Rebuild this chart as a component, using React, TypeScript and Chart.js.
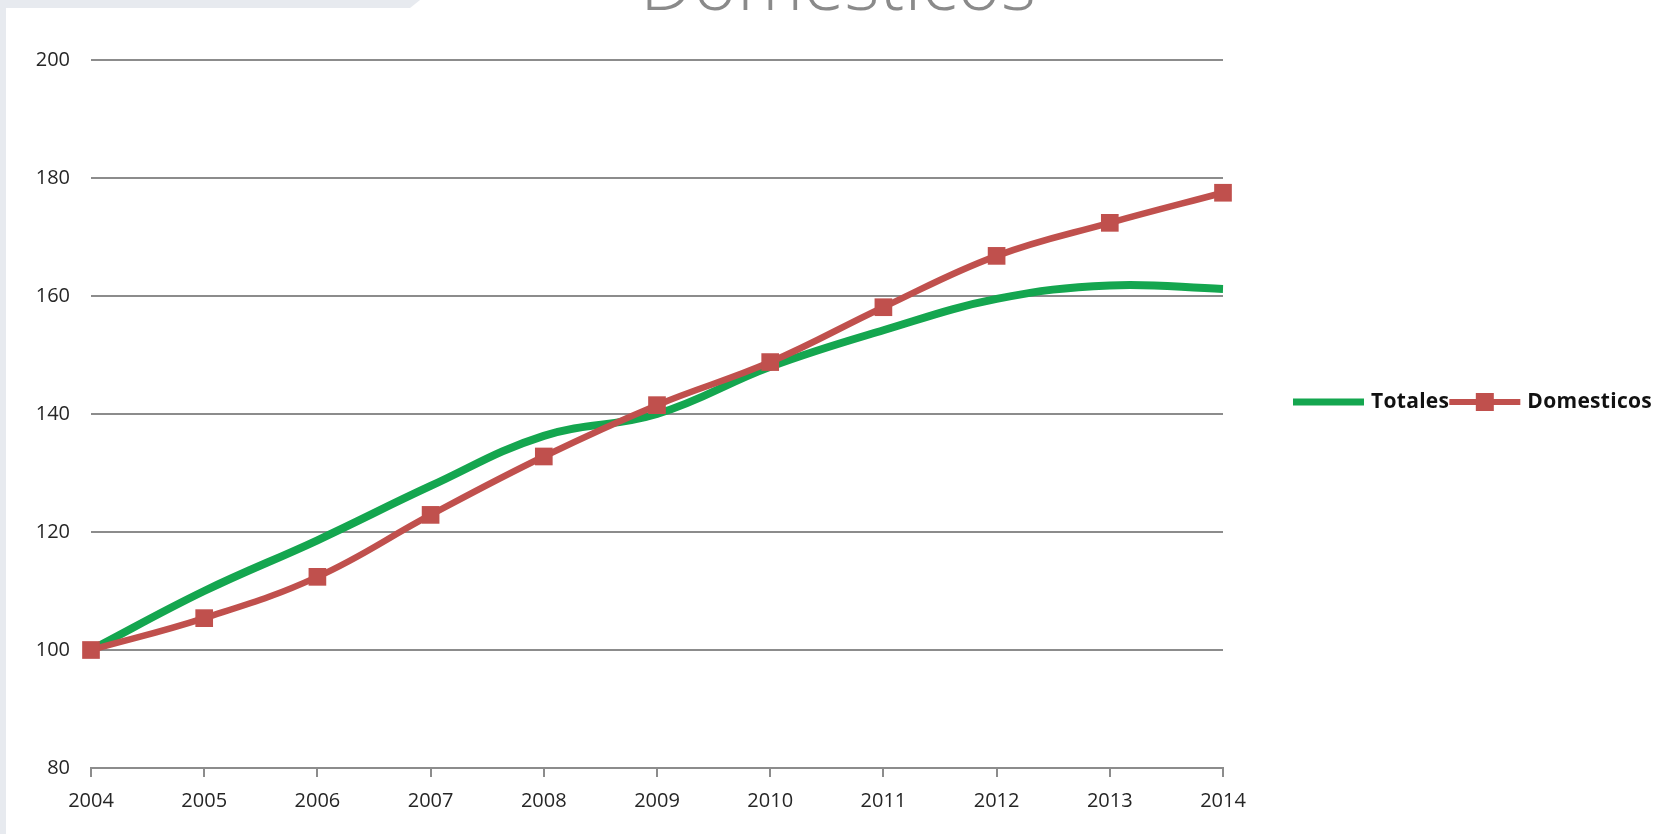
import React, { useEffect, useRef } from 'react';
import { Chart, registerables } from 'chart.js';

Chart.register(...registerables);

const years = ['2004', '2005', '2006', '2007', '2008', '2009', '2010', '2011', '2012', '2013', '2014'];
const totales = [100, 110, 118.6, 127.8, 136.3, 140, 148, 154.2, 159.5, 161.8, 161.2];
const domesticos = [100, 105.4, 112.4, 122.9, 132.8, 141.5, 148.8, 158.1, 166.8, 172.4, 177.5];
const seriesNames = ['Totales', 'Domesticos'];
const titleText = 'Domesticos';
const yMin = 80;
const yMax = 200;
const yStep = 20;

const GREEN = '#14a64f';
const RED = '#c0504d';
const GRID = '#8c8c8c';
const FONT = '"Open Sans", "Liberation Sans", sans-serif';

export default function App() {
  const ref = useRef<HTMLCanvasElement>(null);

  useEffect(() => {
    let chart: Chart | null = null;
    let cancelled = false;

    const framePlugin = {
      id: 'frame',
      beforeDraw(c: any) {
        const ctx = c.ctx as CanvasRenderingContext2D;
        ctx.save();
        ctx.fillStyle = '#ffffff';
        ctx.fillRect(0, 0, c.width, c.height);
        ctx.fillStyle = '#e7eaef';
        ctx.fillRect(0, 0, 6, c.height);
        ctx.beginPath();
        ctx.moveTo(0, 0);
        ctx.lineTo(420, 0);
        ctx.lineTo(410, 8);
        ctx.lineTo(0, 8);
        ctx.closePath();
        ctx.fill();
        ctx.restore();
      },
      afterDraw(c: any) {
        const ctx = c.ctx as CanvasRenderingContext2D;
        ctx.save();
        // Title (cut off at top)
        ctx.font = `300 75px ${FONT}`;
        ctx.fillStyle = '#8a8a8a';
        ctx.textAlign = 'center';
        ctx.textBaseline = 'alphabetic';
        ctx.fillText(titleText, 838, 10);

        // Legend
        const y = 402;
        ctx.font = `bold 21px ${FONT}`;
        try {
          (ctx as any).letterSpacing = '0.3px';
        } catch (e) {
          /* ignore */
        }
        ctx.textAlign = 'left';
        ctx.textBaseline = 'middle';
        let x = 1293;
        ctx.lineCap = 'butt';
        ctx.strokeStyle = GREEN;
        ctx.lineWidth = 7;
        ctx.beginPath();
        ctx.moveTo(x, y);
        ctx.lineTo(x + 71, y);
        ctx.stroke();
        x += 78;
        ctx.fillStyle = '#111111';
        ctx.fillText(seriesNames[0], x, y);
        x += ctx.measureText(seriesNames[0]).width;
        ctx.strokeStyle = RED;
        ctx.lineWidth = 6;
        ctx.beginPath();
        ctx.moveTo(x, y);
        ctx.lineTo(x + 71, y);
        ctx.stroke();
        ctx.fillStyle = RED;
        ctx.fillRect(x + 35.5 - 9, y - 9, 18, 18);
        x += 78;
        ctx.fillStyle = '#111111';
        ctx.fillText(seriesNames[1], x, y);
        ctx.restore();
      },
    };

    const build = () => {
      if (cancelled || !ref.current) return;
      chart = new Chart(ref.current, {
        type: 'line',
        data: {
          labels: years,
          datasets: [
            {
              label: seriesNames[0],
              data: totales,
              borderColor: GREEN,
              backgroundColor: GREEN,
              borderWidth: 8,
              pointRadius: 0,
              tension: 0.4,
              order: 1,
              clip: false as any,
            },
            {
              label: seriesNames[1],
              data: domesticos,
              borderColor: RED,
              backgroundColor: RED,
              borderWidth: 6.5,
              pointStyle: 'rect',
              pointRadius: 12.5,
              pointBorderWidth: 0,
              pointBackgroundColor: RED,
              tension: 0.4,
              order: 0,
              clip: false as any,
            },
          ],
        },
        options: {
          responsive: false,
          animation: false,
          devicePixelRatio: 1,
          layout: { padding: { top: 60, right: 444, left: 0, bottom: 0 } },
          plugins: {
            legend: { display: false },
            tooltip: { enabled: false },
            title: { display: false },
          },
          scales: {
            x: {
              type: 'category',
              offset: false,
              afterFit(scale: any) {
                scale.height = 66;
              },
              grid: {
                drawOnChartArea: false,
                drawTicks: true,
                tickLength: 9,
                color: GRID,
                lineWidth: 2,
              },
              border: { display: true, color: GRID, width: 2 },
              ticks: {
                color: '#262626',
                font: { family: FONT, size: 20 },
                padding: 12,
                maxRotation: 0,
                autoSkip: false,
              },
            },
            y: {
              min: yMin,
              max: yMax,
              afterFit(scale: any) {
                scale.width = 91;
              },
              grid: {
                color: GRID,
                lineWidth: 2,
                drawTicks: false,
              },
              border: { display: false },
              ticks: {
                stepSize: yStep,
                color: '#262626',
                font: { family: FONT, size: 20 },
                padding: 21,
              },
            },
          },
        },
        plugins: [framePlugin],
      });
    };

    const fontsReady = (document as any).fonts
      ? Promise.all([
          (document as any).fonts.load(`20px "Open Sans"`),
          (document as any).fonts.load(`bold 21px "Open Sans"`),
          (document as any).fonts.load(`300 75px "Open Sans"`),
        ]).catch(() => null)
      : Promise.resolve(null);
    fontsReady.then(build);

    return () => {
      cancelled = true;
      if (chart) chart.destroy();
    };
  }, []);

  return (
    <div style={{ position: 'fixed', left: 0, top: 0, width: 1667, height: 834, background: '#fff' }}>
      <canvas ref={ref} width={1667} height={834} style={{ display: 'block', width: 1667, height: 834 }} />
    </div>
  );
}
